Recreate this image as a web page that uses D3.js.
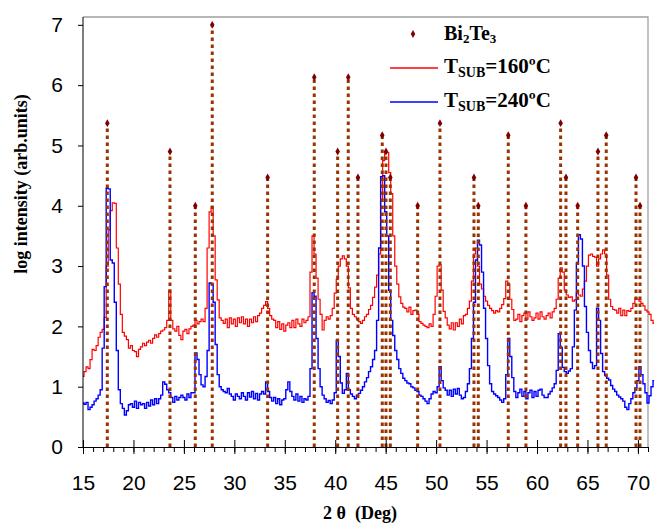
<!DOCTYPE html>
<html><head><meta charset="utf-8">
<script src="https://cdn.jsdelivr.net/npm/d3@7"></script>
<style>body{margin:0;background:#fff} svg{display:block}</style>
</head><body>
<script>
// ---- data ----
const angleStart = 15;      // first 2θ sample (deg)
const angleStep = 0.2;      // sampling step (deg)

// log intensity, T_SUB = 160 ºC (one line per degree: x.0, x.2, x.4, x.6, x.8)
const red160 = [
1.17,1.25,1.33,1.30,1.45,
1.62,1.60,1.68,1.82,1.90,
1.95,2.15,3.00,3.60,3.92,
4.05,4.04,3.30,2.70,2.20,
1.90,1.84,1.78,1.64,1.68,
1.60,1.58,1.50,1.62,1.66,
1.72,1.68,1.74,1.77,1.72,
1.80,1.86,1.82,1.88,1.92,
1.94,1.98,2.10,2.60,2.10,
1.96,1.92,2.00,1.85,1.78,
1.92,1.95,1.88,1.96,2.00,
2.02,2.10,2.04,2.08,2.12,
2.08,2.30,3.30,3.90,3.98,
3.50,2.77,2.44,2.14,2.10,
2.05,2.12,1.98,2.14,2.04,
2.12,2.00,2.14,2.06,2.16,
2.04,2.12,2.00,2.12,2.06,
2.16,2.08,2.18,2.22,2.30,
2.35,2.41,2.30,2.18,2.12,
2.10,1.98,2.08,1.95,2.04,
1.92,2.02,2.06,1.98,2.10,
1.98,2.12,2.04,2.00,2.12,
2.06,2.10,2.16,2.90,3.50,
3.20,2.80,2.45,2.20,1.94,
2.10,2.16,2.12,2.18,2.30,
2.55,2.78,3.00,3.12,3.17,
3.12,3.00,2.64,2.30,2.20,
2.16,2.12,2.08,2.05,2.10,
2.16,2.20,2.28,2.35,2.48,
2.65,2.85,3.20,4.10,4.75,
4.88,4.88,4.55,4.20,3.50,
3.00,2.70,2.49,2.38,2.32,
2.30,2.24,2.32,2.20,2.26,
2.27,2.20,2.08,2.05,2.02,
2.00,1.98,2.04,2.00,2.20,
2.50,3.00,3.02,2.60,2.25,
2.14,2.02,1.96,2.06,1.94,
2.06,2.00,2.12,2.04,2.18,
2.20,2.30,2.42,2.75,3.20,
3.30,3.00,2.70,2.62,2.50,
2.42,2.35,2.30,2.26,2.22,
2.26,2.24,2.30,2.36,2.46,
2.75,2.70,2.45,2.28,2.10,
2.12,2.20,2.08,2.18,2.22,
2.12,2.24,2.16,2.10,2.14,
2.22,2.12,2.24,2.16,2.12,
2.18,2.22,2.14,2.24,2.30,
2.45,2.80,2.97,2.90,2.60,
2.52,2.48,2.49,2.42,2.44,
2.55,2.52,2.50,2.62,2.75,
3.00,3.18,3.20,3.16,3.15,
3.00,3.12,3.20,3.27,3.20,
2.85,2.45,2.33,2.28,2.27,
2.22,2.30,2.18,2.27,2.18,
2.26,2.25,2.30,2.38,2.47,
2.45,2.42,2.38,2.34,2.27,
2.24,2.20,2.10,2.05
];

// log intensity, T_SUB = 240 ºC
const blue240 = [
0.73,0.71,0.74,0.62,0.66,
0.70,0.76,0.80,0.86,0.95,
1.64,2.66,4.29,4.28,3.10,
3.05,2.40,1.60,0.95,0.72,
0.64,0.53,0.60,0.70,0.72,
0.66,0.76,0.64,0.74,0.70,
0.72,0.64,0.74,0.68,0.78,
0.70,0.80,0.72,0.80,0.86,
1.08,1.04,0.95,0.90,0.82,
0.74,0.84,0.78,0.82,0.86,
0.82,0.78,0.88,0.82,0.90,
0.90,1.56,1.45,1.20,1.03,
1.00,1.17,1.60,2.72,2.70,
2.40,1.70,1.20,1.00,0.95,
0.92,0.90,0.97,0.88,0.84,
0.78,0.88,0.84,0.80,0.90,
0.84,0.78,0.90,0.83,0.92,
0.80,0.89,0.78,0.88,0.92,
0.88,1.08,0.92,0.82,0.76,
0.82,0.72,0.80,0.70,0.78,
0.80,0.95,1.08,0.92,0.84,
0.78,0.88,0.76,0.84,0.74,
0.80,0.78,0.84,1.30,2.56,
2.50,1.80,1.30,1.00,0.86,
0.80,0.74,0.77,0.72,0.78,
0.90,1.77,1.50,1.06,0.89,
0.95,1.22,0.95,0.88,0.84,
0.80,0.86,0.89,0.94,1.00,
1.08,1.15,1.25,1.33,1.45,
1.60,2.10,3.30,4.48,4.50,
3.90,3.50,2.60,2.10,1.85,
1.60,1.45,1.30,1.22,1.14,
1.10,1.06,1.05,1.00,0.98,
0.94,0.92,0.86,0.84,0.80,
0.76,0.72,0.80,0.88,0.92,
0.90,1.00,1.33,1.10,0.98,
0.94,0.86,0.94,0.84,0.96,
0.88,0.97,0.86,0.80,0.82,
0.92,1.05,1.30,1.80,2.40,
3.10,3.43,3.35,2.90,2.30,
1.80,1.35,1.05,0.92,0.88,
0.85,0.82,0.78,0.74,0.80,
1.20,1.80,1.50,1.15,0.92,
0.82,0.90,0.96,0.84,0.92,
0.80,0.90,0.94,0.82,0.92,
0.84,0.94,0.96,0.86,0.82,
0.82,0.88,0.92,0.98,1.05,
1.27,1.88,1.65,1.32,1.25,
1.22,1.26,1.30,1.66,2.27,
3.05,3.52,3.45,3.00,2.33,
1.90,1.60,1.40,1.30,1.35,
2.30,2.10,1.55,1.25,1.19,
1.14,1.11,1.02,0.96,0.92,
0.86,0.83,0.80,0.76,0.66,
0.62,0.72,0.80,0.90,0.98,
1.10,1.33,1.20,1.05,0.90,
0.73,0.85,1.00,1.10
];

// Bi2Te3 reference pattern
const refAngles = [17.41,23.62,26.13,27.81,33.30,37.92,40.24,41.29,42.25,44.66,45.03,45.46,48.17,
                   50.38,53.75,54.18,57.15,58.90,62.34,62.87,64.03,66.04,66.86,69.81,70.21];
const refLogI   = [5.37,4.90,4.00,7.00,4.47,6.13,4.90,6.13,4.47,5.17,4.90,4.47,4.00,
                   5.37,4.47,4.00,5.17,4.00,5.37,4.47,4.00,4.90,5.17,4.47,4.00];

const xTicks = [15,20,25,30,35,40,45,50,55,60,65,70];
const xMinorTicks = d3.range(15, 72, 1);
const yTicks = [0,1,2,3,4,5,6,7];

// ---- chart ----
const W = 655, H = 532;
const svg = d3.select("body").append("svg").attr("width", W).attr("height", H);

const x = d3.scaleLinear().domain([15, 71]).range([83, 648]);
const y = d3.scaleLinear().domain([0, 7.13]).range([447, 17]);

// plot-area frame (top & right)
svg.append("path")
  .attr("d", `M${x(15)},${y(7.13)}H${x(71)}V${y(0)}`)
  .attr("fill", "none").attr("stroke", "#a0a0a0").attr("stroke-width", 1.3);

// curves
const line = d3.line()
  .x((d, i) => x(angleStart + i * angleStep))
  .y(d => y(d))
  .curve(d3.curveStep);

svg.append("path").datum(red160)
  .attr("d", line).attr("fill", "none").attr("stroke", "#ff0000").attr("stroke-width", 1.2);
svg.append("path").datum(blue240)
  .attr("d", line).attr("fill", "none").attr("stroke", "#0000ff").attr("stroke-width", 1.4);

// reference lines (dotted) + markers
const refs = refAngles.map((a, i) => ({a, v: refLogI[i]}));
svg.append("g").selectAll("line").data(refs).join("line")
  .attr("x1", d => x(d.a)).attr("x2", d => x(d.a))
  .attr("y1", y(0)).attr("y2", d => y(d.v))
  .attr("stroke", "#993300").attr("stroke-width", 3)
  .attr("stroke-dasharray", "3.5,3.5");
const diamond = d3.symbol().type(d3.symbolDiamond).size(18);
svg.append("g").selectAll("path").data(refs).join("path")
  .attr("d", diamond)
  .attr("transform", d => `translate(${x(d.a)},${y(d.v)})`)
  .attr("fill", "#800000");

// x axis
const xAxisMinor = d3.axisBottom(x).tickValues(xMinorTicks).tickSize(5).tickSizeOuter(0).tickFormat("");
const gxm = svg.append("g").attr("transform", `translate(0,${y(0)})`).call(xAxisMinor);
const xAxis = d3.axisBottom(x).tickValues(xTicks).tickSize(7).tickSizeOuter(0).tickPadding(21);
const gx = svg.append("g").attr("transform", `translate(0,${y(0)})`).call(xAxis);
gx.selectAll(".tick line").attr("y1", -7);
[gx, gxm].forEach(g => { g.select(".domain").attr("stroke", "#000"); g.selectAll(".tick line").attr("stroke", "#000"); });
gx.selectAll("text").attr("font-family", "'Liberation Sans', Arial, sans-serif").attr("font-size", 21).attr("fill", "#000");

// y axis
const yAxis = d3.axisLeft(y).tickValues(yTicks).tickSize(5).tickSizeOuter(0).tickPadding(15);
const gy = svg.append("g").attr("transform", `translate(${x(15)},0)`).call(yAxis);
gy.select(".domain").attr("d", `M0,${y(7.13)}V${y(0)}`).attr("stroke", "#000");
gy.selectAll(".tick line").attr("stroke", "#000");
gy.selectAll("text").attr("font-family", "'Liberation Sans', Arial, sans-serif").attr("font-size", 21).attr("fill", "#000");

// axis titles
const serif = "'Liberation Serif', 'Times New Roman', serif";
svg.append("text").attr("x", 360).attr("y", 519).attr("text-anchor", "middle")
  .attr("font-family", serif).attr("font-weight", "bold").attr("font-size", 18)
  .style("white-space", "pre").text("2 θ  (Deg)");
svg.append("text").attr("transform", "translate(27,184) rotate(-90)").attr("text-anchor", "middle")
  .attr("font-family", serif).attr("font-weight", "bold").attr("font-size", 18)
  .text("log intensity (arb.units)");

// legend
const leg = svg.append("g").attr("font-family", serif).attr("font-weight", "bold");
leg.append("path").attr("d", diamond).attr("transform", "translate(413,34)").attr("fill", "#800000");
const t1 = leg.append("text").attr("x", 444).attr("y", 40).attr("font-size", 20);
t1.append("tspan").text("Bi");
t1.append("tspan").attr("font-size", 13).attr("dy", 3).text("2");
t1.append("tspan").attr("dy", -3).text("Te");
t1.append("tspan").attr("font-size", 13).attr("dy", 3).text("3");

const legendSeries = [
  {label: "=160ºC", color: "#ff0000", y: 68},
  {label: "=240ºC", color: "#0000ff", y: 102}
];
legendSeries.forEach(s => {
  leg.append("line").attr("x1", 390).attr("x2", 438).attr("y1", s.y).attr("y2", s.y)
    .attr("stroke", s.color).attr("stroke-width", 1.3);
  const t = leg.append("text").attr("x", 444).attr("y", s.y + 5).attr("font-size", 21);
  t.append("tspan").text("T");
  t.append("tspan").attr("font-size", 14).attr("dy", 4).text("SUB");
  t.append("tspan").attr("dy", -4).text(s.label);
});
</script>
</body></html>
